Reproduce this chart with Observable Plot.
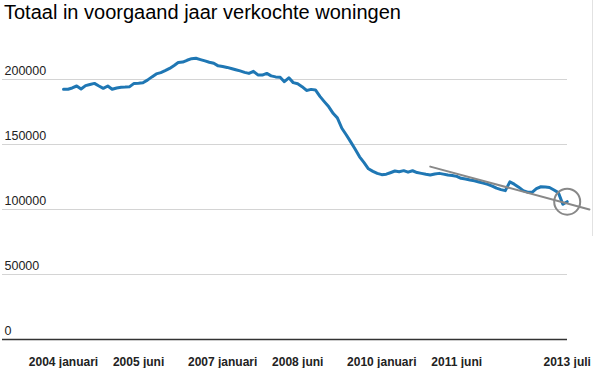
<!DOCTYPE html>
<html>
<head>
<meta charset="utf-8">
<script src="https://cdn.jsdelivr.net/npm/d3@7"></script>
<script src="https://cdn.jsdelivr.net/npm/@observablehq/plot@0.6"></script>
<style>
  html, body { margin: 0; padding: 0; background: #fff; }
  body { width: 594px; height: 368px; overflow: hidden; position: relative; font-family: "Liberation Sans", Arial, sans-serif; }
  #title { font-size: 20px; line-height: 24px; height: 24px; padding-left: 4px; color: #000; white-space: nowrap; }
  #edge { position: absolute; left: 592px; top: 0; width: 1px; height: 236px; background: #e2e2e2; }
  svg { display: block; }
</style>
</head>
<body>
<div id="title">Totaal in voorgaand jaar verkochte woningen</div>
<div id="chart"></div>
<div id="edge"></div>
<script>
// Monthly series, January 2004 through July 2013
const startMonth = "2004-01-01";
const sales = [
  192500, 192500, 193500, 195000, 192700, 195300, 196200, 197000, 195000, 193200, 195000, 192500, // 2004
  193500, 194000, 194200, 194500, 197000, 197200, 197500, 199500, 202000, 204300, 205300, 206800, // 2005
  208500, 210800, 213000, 213400, 214800, 216000, 216300, 215300, 214300, 213300, 212500, 210500, // 2006
  210000, 209300, 208500, 207500, 206600, 205500, 204700, 206300, 203500, 203400, 204700, 202800, // 2007
  202000, 201700, 198300, 201300, 197600, 196700, 194500, 191600, 192400, 192000, 187000, 183000, // 2008
  179000, 173800, 170500, 162500, 157500, 152000, 146500, 140500, 136000, 131300, 129300, 127800, // 2009
  126800, 127200, 128300, 129600, 129100, 129900, 128700, 129800, 128400, 127800, 127100, 126500, // 2010
  127300, 127800, 127200, 126500, 126200, 125500, 124000, 123500, 122700, 122100, 121200, 120300, // 2011
  119300, 118000, 116400, 115300, 114500, 121300, 119500, 117200, 114500, 113300, 113200, 116000, // 2012
  117500, 117300, 116900, 115000, 113000, 104000, 106000                                          // 2013
];
// Trend line (start and end)
const trendMonths = ["2010-12-01", "2013-12-01"];
const trendValues = [133000, 100000];
// Highlighted point
const highlightMonth = "2013-07-01";
const highlightValue = 106000;

const yTicks = [0, 50000, 100000, 150000, 200000];
const xTickMonths = ["2004-01-01", "2005-06-01", "2007-01-01", "2008-06-01", "2010-01-01", "2011-06-01", "2013-07-01"];
const xTickLabels = ["2004 januari", "2005 juni", "2007 januari", "2008 juni", "2010 januari", "2011 juni", "2013 juli"];

const start = new Date(startMonth);
const data = sales.map((v, i) => ({date: d3.utcMonth.offset(start, i), value: v}));
const trend = trendMonths.map((m, i) => ({date: new Date(m), value: trendValues[i]}));
const xTicks = xTickMonths.map((m, i) => ({date: new Date(m), label: xTickLabels[i]}));

const W = 594, H = 344;
const chart = Plot.plot({
  width: W,
  height: H,
  marginLeft: 2,
  marginRight: 27,
  marginTop: 0,
  marginBottom: 0,
  style: {fontFamily: "'Liberation Sans', Arial, sans-serif", background: "#fff", overflow: "visible"},
  x: {type: "utc", domain: [new Date(startMonth), new Date(highlightMonth)], range: [63, 566.7], axis: null},
  y: {domain: [0, 200000], range: [315, 55], axis: null},
  marks: [
    Plot.ruleY(yTicks.filter(d => d > 0), {stroke: "#d4d4d4", strokeWidth: 1}),
    Plot.ruleY([0], {stroke: "#333", strokeWidth: 1.5}),
    Plot.text(yTicks, {y: d => d, text: d => String(d), frameAnchor: "left", textAnchor: "start", lineAnchor: "bottom", dx: 2, dy: -5, fontSize: 12.5, fill: "#222"}),
    Plot.text(xTicks, {x: "date", text: "label", frameAnchor: "bottom", lineAnchor: "bottom", dy: -3, fontSize: 12, fontWeight: "bold", fill: "#222"}),
    Plot.line(data, {x: "date", y: "value", stroke: "#1f77b4", strokeWidth: 3, strokeLinejoin: "round", strokeLinecap: "round"}),
    Plot.line(trend, {x: "date", y: "value", stroke: "#888", strokeWidth: 2}),
    Plot.dot([{date: new Date(highlightMonth), value: highlightValue}], {x: "date", y: "value", r: 13, stroke: "#888", strokeWidth: 2, fill: "none"})
  ]
});
document.getElementById("chart").appendChild(chart);
</script>
</body>
</html>
